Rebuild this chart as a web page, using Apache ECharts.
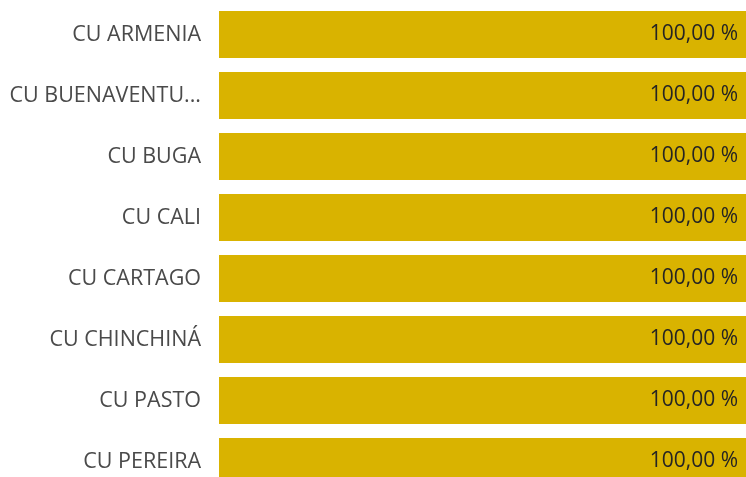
<!DOCTYPE html>
<html>
<head>
<meta charset="utf-8">
<style>html,body{margin:0;padding:0;background:#fff;overflow:hidden;}#c{width:746px;height:500px;}</style>
<script src="https://cdn.jsdelivr.net/npm/echarts@6/dist/echarts.min.js"></script>
</head>
<body>
<div id="c"></div>
<script>
const categories = ["CU ARMENIA", "CU BUENAVENTURA", "CU BUGA", "CU CALI", "CU CARTAGO", "CU CHINCHINÁ", "CU PASTO", "CU PEREIRA"];
const values = [100, 100, 100, 100, 100, 100, 100, 100];

const chart = echarts.init(document.getElementById('c'));
chart.setOption({
  animation: false,
  grid: { left: 219, right: 0, top: 4, height: 488 },
  xAxis: { type: 'value', min: 0, max: 100, show: false },
  yAxis: {
    type: 'category', data: categories, inverse: true,
    axisLine: { show: false }, axisTick: { show: false },
    axisLabel: {
      margin: 18, color: '#4a4a4a', fontSize: 21.5, fontFamily: 'Open Sans',
      width: 194, overflow: 'truncate', ellipsis: '...'
    }
  },
  series: [{
    type: 'bar', data: values, barCategoryGap: '23%',
    itemStyle: { color: '#D9B300' },
    label: {
      show: true, position: 'insideRight', distance: 8,
      color: '#252423', fontSize: 21, fontFamily: 'Open Sans',
      formatter: p => p.value.toFixed(2).replace('.', ',') + ' %'
    }
  }]
});
</script>
</body>
</html>
